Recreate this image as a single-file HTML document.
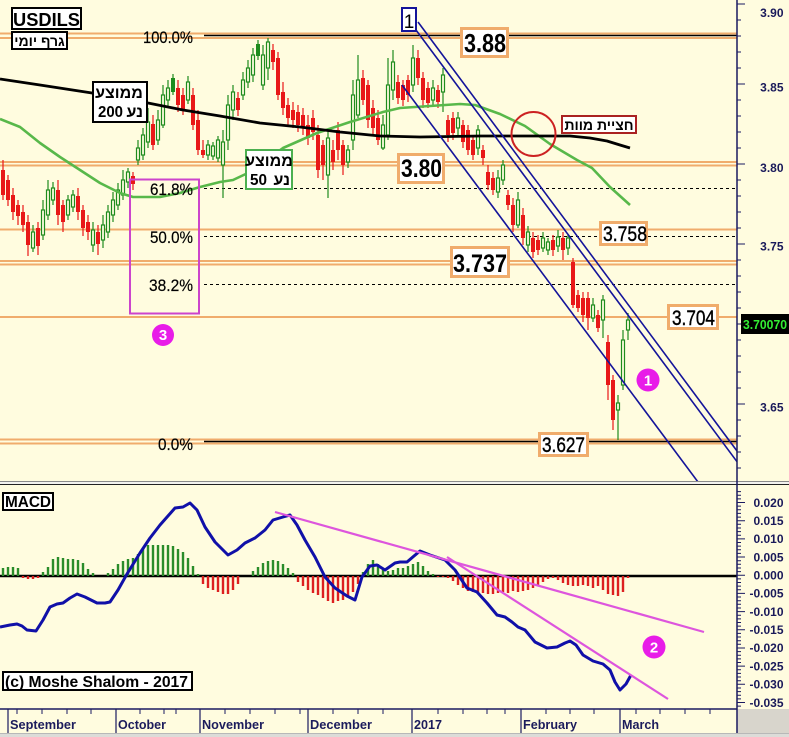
<!DOCTYPE html>
<html><head><meta charset="utf-8"><style>
html,body{margin:0;padding:0;background:#FFFCDF;}
svg{display:block;}
</style></head><body>
<svg width="789" height="737" viewBox="0 0 789 737" xmlns="http://www.w3.org/2000/svg" font-family="'Liberation Sans','DejaVu Sans',sans-serif">
<defs>
<clipPath id="pc"><rect x="0" y="0" width="737" height="481"/></clipPath>
<clipPath id="mc"><rect x="0" y="485" width="737" height="224"/></clipPath>
</defs>
<rect x="0" y="0" width="789" height="737" fill="#FFFCDF"/>

<g clip-path="url(#pc)">
<g stroke="#F0AC6C" stroke-width="2" fill="none">
<line x1="0" y1="33.5" x2="737" y2="33.5"/>
<line x1="0" y1="38" x2="737" y2="38"/>
<line x1="0" y1="162" x2="737" y2="162"/>
<line x1="0" y1="165.5" x2="737" y2="165.5"/>
<line x1="0" y1="229.5" x2="737" y2="229.5"/>
<line x1="0" y1="261" x2="737" y2="261"/>
<line x1="0" y1="264.5" x2="737" y2="264.5"/>
<line x1="0" y1="317" x2="737" y2="317"/>
<line x1="0" y1="439.5" x2="737" y2="439.5"/>
<line x1="0" y1="443.5" x2="737" y2="443.5"/>
</g>
<g stroke="#000" stroke-width="1.5">
<line x1="204" y1="35.5" x2="737" y2="35.5"/>
<line x1="204" y1="441.5" x2="737" y2="441.5"/>
</g>
<g stroke="#000" stroke-width="1" stroke-dasharray="3,3">
<line x1="204" y1="188.5" x2="737" y2="188.5"/>
<line x1="204" y1="236.5" x2="737" y2="236.5"/>
<line x1="204" y1="284.5" x2="737" y2="284.5"/>
</g>

<path stroke="#E81818" stroke-width="1.2" fill="none" d="M3 160V200M8 175V206M13 188V220M18 200V225M23 205V232M28 215V256M38 222V255M58 180V225M63 200V232M78 188V220M83 205V236M88 215V240M98 225V255M133 172V190M153 115V150M178 80V112M183 88V115M193 88V130M198 110V155M203 140V158M238 92V116M273 44V70M278 52V100M283 82V115M288 98V125M293 102V128M298 105V132M303 108V135M308 115V145M313 110V140M318 125V178M323 140V180M333 140V170M338 122V160M343 140V175M363 70V105M368 80V128M373 100V135M378 110V145M398 75V104M403 80V106M408 75V102M418 50V85M423 72V108M428 82V108M438 85V108M448 115V142M453 112V140M463 120V148M468 125V155M473 135V160M483 145V165M488 165V190M493 172V195M508 190V210M513 198V232M523 208V245M533 232V258M538 235V255M553 235V256M563 232V260M573 258V308M578 290V312M583 292V322M588 292V330M598 310V332M608 335V400M613 375V430"/>
<g fill="#E81818">
<rect x="1" y="170" width="4" height="25"/><rect x="6" y="180" width="4" height="20"/><rect x="11" y="195" width="4" height="17"/><rect x="16" y="205" width="4" height="11"/><rect x="21" y="212" width="4" height="13"/><rect x="26" y="222" width="4" height="23"/><rect x="36" y="228" width="4" height="18"/><rect x="56" y="190" width="4" height="25"/><rect x="61" y="205" width="4" height="17"/><rect x="76" y="196" width="4" height="16"/><rect x="81" y="210" width="4" height="18"/><rect x="86" y="222" width="4" height="10"/><rect x="96" y="232" width="4" height="12"/><rect x="131" y="176" width="4" height="8"/><rect x="151" y="124" width="4" height="21"/><rect x="176" y="88" width="4" height="17"/><rect x="181" y="95" width="4" height="15"/><rect x="191" y="95" width="4" height="30"/><rect x="196" y="120" width="4" height="30"/><rect x="201" y="150" width="4" height="5"/><rect x="236" y="98" width="4" height="12"/><rect x="271" y="50" width="4" height="12"/><rect x="276" y="58" width="4" height="37"/><rect x="281" y="92" width="4" height="16"/><rect x="286" y="105" width="4" height="13"/><rect x="291" y="110" width="4" height="10"/><rect x="296" y="112" width="4" height="13"/><rect x="301" y="115" width="4" height="13"/><rect x="306" y="125" width="4" height="13"/><rect x="311" y="118" width="4" height="14"/><rect x="316" y="135" width="4" height="35"/><rect x="321" y="145" width="4" height="20"/><rect x="331" y="150" width="4" height="12"/><rect x="336" y="130" width="4" height="20"/><rect x="341" y="145" width="4" height="20"/><rect x="361" y="78" width="4" height="22"/><rect x="366" y="85" width="4" height="35"/><rect x="371" y="108" width="4" height="20"/><rect x="376" y="118" width="4" height="22"/><rect x="396" y="82" width="4" height="16"/><rect x="401" y="85" width="4" height="15"/><rect x="406" y="80" width="4" height="15"/><rect x="416" y="58" width="4" height="20"/><rect x="421" y="78" width="4" height="22"/><rect x="426" y="88" width="4" height="15"/><rect x="436" y="90" width="4" height="12"/><rect x="446" y="120" width="4" height="15"/><rect x="451" y="118" width="4" height="15"/><rect x="461" y="125" width="4" height="17"/><rect x="466" y="130" width="4" height="20"/><rect x="471" y="140" width="4" height="15"/><rect x="481" y="150" width="4" height="8"/><rect x="486" y="172" width="4" height="13"/><rect x="491" y="178" width="4" height="12"/><rect x="506" y="195" width="4" height="10"/><rect x="511" y="205" width="4" height="20"/><rect x="521" y="215" width="4" height="23"/><rect x="531" y="238" width="4" height="14"/><rect x="536" y="240" width="4" height="10"/><rect x="551" y="240" width="4" height="10"/><rect x="561" y="238" width="4" height="12"/><rect x="571" y="262" width="4" height="43"/><rect x="576" y="295" width="4" height="13"/><rect x="581" y="298" width="4" height="17"/><rect x="586" y="298" width="4" height="20"/><rect x="596" y="315" width="4" height="13"/><rect x="606" y="342" width="4" height="43"/><rect x="611" y="380" width="4" height="40"/>
</g>
<path stroke="#1E8C1E" stroke-width="1.2" fill="none" d="M33 225V252M43 200V240M48 180V220M53 182V205M68 195V220M73 190V212M93 222V252M103 215V248M108 205V238M113 192V222M118 183V210M123 170V200M128 168V188M138 140V165M143 128V160M148 108V148M158 110V145M163 85V128M168 80V108M173 74V95M188 76V104M208 140V160M213 142V160M218 136V162M223 130V198M228 95V150M233 85V120M243 72V100M248 60V88M253 48V82M258 40V60M263 45V90M268 38V80M328 130V198M348 145V168M353 80V150M358 55V118M383 115V150M388 58V140M393 50V100M413 45V92M433 80V105M443 68V112M458 112V135M478 125V155M498 170V198M503 160V185M518 192V228M528 226V252M543 232V252M548 238V255M558 230V252M568 235V255M593 298V322M603 295V338M618 395V440M623 330V390M628 313V340"/>
<g fill="#FFFCDF" stroke="#1E8C1E" stroke-width="1.2">
<rect x="31.5" y="232" width="3" height="16"/><rect x="41.5" y="210" width="3" height="25"/><rect x="46.5" y="190" width="3" height="25"/><rect x="51.5" y="188" width="3" height="12"/><rect x="66.5" y="200" width="3" height="15"/><rect x="71.5" y="195" width="3" height="12"/><rect x="91.5" y="230" width="3" height="15"/><rect x="101.5" y="225" width="3" height="15"/><rect x="106.5" y="212" width="3" height="20"/><rect x="111.5" y="200" width="3" height="15"/><rect x="116.5" y="190" width="3" height="15"/><rect x="121.5" y="180" width="3" height="15"/><rect x="126.5" y="172" width="3" height="10"/><rect x="136.5" y="148" width="3" height="12"/><rect x="141.5" y="135" width="3" height="20"/><rect x="146.5" y="122" width="3" height="20"/><rect x="156.5" y="120" width="3" height="20"/><rect x="161.5" y="95" width="3" height="30"/><rect x="166.5" y="88" width="3" height="12"/><rect x="186.5" y="82" width="3" height="18"/><rect x="206.5" y="145" width="3" height="10"/><rect x="211.5" y="146" width="3" height="10"/><rect x="216.5" y="140" width="3" height="18"/><rect x="221.5" y="142" width="3" height="23"/><rect x="226.5" y="105" width="3" height="35"/><rect x="231.5" y="92" width="3" height="18"/><rect x="241.5" y="80" width="3" height="15"/><rect x="246.5" y="68" width="3" height="14"/><rect x="251.5" y="55" width="3" height="20"/><rect x="261.5" y="55" width="3" height="30"/><rect x="266.5" y="42" width="3" height="26"/><rect x="326.5" y="138" width="3" height="37"/><rect x="346.5" y="150" width="3" height="12"/><rect x="351.5" y="95" width="3" height="45"/><rect x="356.5" y="80" width="3" height="35"/><rect x="381.5" y="125" width="3" height="23"/><rect x="386.5" y="85" width="3" height="50"/><rect x="391.5" y="62" width="3" height="28"/><rect x="411.5" y="58" width="3" height="27"/><rect x="431.5" y="88" width="3" height="12"/><rect x="441.5" y="75" width="3" height="17"/><rect x="456.5" y="118" width="3" height="10"/><rect x="476.5" y="130" width="3" height="18"/><rect x="496.5" y="178" width="3" height="14"/><rect x="501.5" y="165" width="3" height="15"/><rect x="516.5" y="200" width="3" height="25"/><rect x="526.5" y="232" width="3" height="13"/><rect x="541.5" y="238" width="3" height="10"/><rect x="546.5" y="242" width="3" height="8"/><rect x="556.5" y="237" width="3" height="9"/><rect x="566.5" y="238" width="3" height="10"/><rect x="591.5" y="305" width="3" height="13"/><rect x="601.5" y="300" width="3" height="20"/><rect x="616.5" y="403" width="3" height="7"/><rect x="621.5" y="340" width="3" height="45"/><rect x="626.5" y="320" width="3" height="10"/>
</g>
<g fill="#1E8C1E"><rect x="171" y="78" width="4" height="14"/><rect x="256" y="44" width="4" height="12"/></g>

<polyline fill="none" stroke="#58B84A" stroke-width="2.6" stroke-linejoin="round" points="0,119 20,127 40,143 60,157 80,170 100,183 120,193 133,197 160,197 180,193 200,187 220,182 233,180 250,172 283,148 317,133 350,122 383,112 400,108 430,106 460,104 475,105 500,114 525,126 550,144 577,160 592,168 610,187 630,205"/>
<polyline fill="none" stroke="#000" stroke-width="2.8" stroke-linejoin="round" points="0,79 40,85 92,93 148,103 183,110 220,116 260,123 300,127 340,132 380,136 420,137 480,136 540,136 570,136 590,138 607,141 620,145 630,148"/>

<g stroke="#14149A" stroke-width="1.6" fill="none">
<line x1="418" y1="22" x2="737" y2="451"/>
<line x1="416" y1="30" x2="737" y2="461.7"/>
<line x1="402" y1="85" x2="698" y2="482"/>
</g>
</g>

<rect x="130" y="179.5" width="69" height="134" fill="none" stroke="#CC44CC" stroke-width="2"/>

<g font-size="17" fill="#000" stroke="#000" stroke-width="0.2">
<text x="143" y="43" textLength="50" lengthAdjust="spacingAndGlyphs">100.0%</text>
<text x="150" y="195" textLength="43" lengthAdjust="spacingAndGlyphs">61.8%</text>
<text x="150" y="243" textLength="43" lengthAdjust="spacingAndGlyphs">50.0%</text>
<text x="149" y="291" textLength="44" lengthAdjust="spacingAndGlyphs">38.2%</text>
<text x="158" y="450" textLength="35" lengthAdjust="spacingAndGlyphs">0.0%</text>
</g>

<g fill="#FFFFFF" stroke="#F0AC6C" stroke-width="3">
<rect x="461.5" y="28.5" width="46" height="28"/>
<rect x="398.5" y="154.5" width="45" height="28"/>
<rect x="600.5" y="222.5" width="46" height="22"/>
<rect x="451.5" y="247.5" width="57" height="29"/>
<rect x="668.5" y="305.5" width="49" height="23"/>
<rect x="539.5" y="433.5" width="48" height="22"/>
</g>
<g fill="#000">
<text x="464" y="52" font-size="26" font-weight="bold" textLength="42" lengthAdjust="spacingAndGlyphs">3.88</text>
<text x="401" y="177" font-size="25" font-weight="bold" textLength="41" lengthAdjust="spacingAndGlyphs">3.80</text>
<text x="453" y="272" font-size="25" font-weight="bold" textLength="54" lengthAdjust="spacingAndGlyphs">3.737</text>
</g>
<g fill="#000" stroke="#000" stroke-width="0.4">
<text x="603" y="241" font-size="21" textLength="44" lengthAdjust="spacingAndGlyphs">3.758</text>
<text x="672" y="325" font-size="21" textLength="43" lengthAdjust="spacingAndGlyphs">3.704</text>
<text x="542" y="452" font-size="21" textLength="43" lengthAdjust="spacingAndGlyphs">3.627</text>
</g>

<g fill="#FFFFFF" stroke="#000" stroke-width="2">
<rect x="12" y="8" width="69" height="21"/>
<rect x="12" y="32" width="55" height="17"/>
<rect x="93" y="82" width="54" height="40"/>
</g>
<rect x="246" y="150" width="46" height="39" fill="#FFFFFF" stroke="#4CB050" stroke-width="2"/>
<text x="13" y="26" font-size="18" font-weight="bold" textLength="67" lengthAdjust="spacingAndGlyphs">USDILS</text>
<text x="39.5" y="46" font-size="14" font-weight="bold" text-anchor="middle">גרף יומי</text>
<text x="119" y="98" font-size="16" font-weight="bold" text-anchor="middle">ממוצע</text>
<text x="98" y="117" font-size="16" font-weight="bold" textLength="25" lengthAdjust="spacingAndGlyphs">200</text>
<text x="143" y="117" font-size="16" font-weight="bold" text-anchor="end">נע</text>
<text x="269" y="166" font-size="16" font-weight="bold" text-anchor="middle">ממוצע</text>
<text x="250" y="185" font-size="16" font-weight="bold" textLength="17" lengthAdjust="spacingAndGlyphs">50</text>
<text x="290" y="185" font-size="16" font-weight="bold" text-anchor="end">נע</text>

<rect x="402" y="8" width="14" height="23" fill="#FFFFFF" stroke="#14149A" stroke-width="2"/>
<text x="409" y="28" font-size="19" text-anchor="middle" fill="#000">1</text>

<circle cx="533.5" cy="134" r="22" fill="none" stroke="#CC2222" stroke-width="2"/>
<rect x="562" y="116" width="74" height="17" fill="#FFFFFF" stroke="#AA2222" stroke-width="2"/>
<text x="599" y="130" font-size="14" font-weight="bold" text-anchor="middle">חציית מוות</text>

<g fill="#E81CE8">
<circle cx="163" cy="335" r="11"/>
<circle cx="648" cy="380" r="11.5"/>
<circle cx="654" cy="647" r="11.5"/>
</g>
<g fill="#FFFFFF" font-size="15" font-weight="bold" text-anchor="middle">
<text x="163" y="340">3</text>
<text x="648" y="385.5">1</text>
<text x="654" y="652.5">2</text>
</g>

<g stroke="#1A1A60" stroke-width="1">
<path d="M737 4H745M737 20H741M737 36H741M737 52H741M737 68H741M737 84H745M737 100H741M737 116H741M737 132H741M737 148H741M737 164H745M737 180H741M737 196H741M737 212H741M737 228H741M737 244H745M737 260H741M737 276H741M737 292H741M737 308H741M737 324H745M737 340H741M737 356H741M737 372H741M737 388H741M737 404H745M737 420H741M737 436H741M737 452H741M737 468H741"/>
</g>
<g font-size="12" font-weight="bold" fill="#1A1A5A" text-anchor="end">
<text x="783.5" y="17">3.90</text>
<text x="783.5" y="91.5">3.85</text>
<text x="783.5" y="172">3.80</text>
<text x="783.5" y="250.5">3.75</text>
<text x="783.5" y="411.5">3.65</text>
</g>
<rect x="741" y="314" width="48" height="20" fill="#000"/>
<text x="743" y="329" font-size="13" font-weight="bold" fill="#33EE33" textLength="44" lengthAdjust="spacingAndGlyphs">3.70070</text>

<rect x="0" y="481" width="789" height="4" fill="#F2F2EE"/>
<line x1="0" y1="481.5" x2="789" y2="481.5" stroke="#8A8A8A" stroke-width="1"/>
<line x1="0" y1="484.5" x2="789" y2="484.5" stroke="#222" stroke-width="1"/>

<g clip-path="url(#mc)">
<line x1="0" y1="576" x2="737" y2="576" stroke="#000" stroke-width="2.5"/>
<path stroke="#2A8C2A" stroke-width="2.4" fill="none" d="M3 576V568M8 576V567M13 576V567M18 576V568M43 576V572M48 576V567M53 576V559M58 576V557M63 576V558M68 576V559M73 576V559M78 576V560M83 576V563M88 576V569M93 576V573M108 576V573M113 576V569M118 576V564M123 576V561M128 576V559M133 576V558M138 576V554M143 576V548M148 576V545M153 576V545M158 576V545M163 576V545M168 576V545M173 576V546M178 576V549M183 576V552M188 576V558M193 576V566M198 576V574M253 576V571M258 576V567M263 576V563M268 576V561M273 576V560M278 576V561M283 576V564M288 576V568M293 576V573M363 576V572M368 576V564M373 576V560M378 576V564M383 576V569M388 576V571M393 576V570M398 576V568M403 576V568M408 576V566M413 576V564M418 576V562M423 576V566M428 576V571M433 576V574"/>
<path stroke="#DD2020" stroke-width="2.4" fill="none" d="M23 576V578M28 576V579M33 576V579M38 576V578M203 576V584M208 576V588M213 576V590M218 576V592M223 576V594M228 576V594M233 576V590M238 576V584M298 576V582M303 576V586M308 576V590M313 576V593M318 576V595M323 576V598M328 576V601M333 576V603M338 576V601M343 576V600M348 576V596M353 576V592M358 576V584M438 576V577M443 576V577M448 576V578M453 576V581M458 576V585M463 576V588M468 576V591M473 576V592M478 576V594M483 576V593M488 576V594M493 576V594M498 576V593M503 576V592M508 576V593M513 576V591M518 576V592M523 576V591M528 576V590M533 576V588M538 576V586M543 576V582M548 576V579M553 576V578M558 576V580M563 576V583M568 576V585M573 576V586M578 576V586M583 576V585M588 576V586M593 576V588M598 576V586M603 576V590M608 576V594M613 576V595M618 576V596M623 576V592M628 576V578"/>
<polyline fill="none" stroke="#1010A8" stroke-width="3" stroke-linejoin="round" points="0,627 10,625 17,624 22,626 27,630 36,631 43,620 50,607 57,604 63,603 70,598 77,594 85,597 97,603 105,603 110,602 118,590 127,574 140,553 150,538 160,525 175,508 183,507 190,503 197,510 205,527 215,542 228,555 237,550 245,543 255,538 265,530 273,520 283,517 290,515 297,525 305,540 315,557 325,577 335,588 347,596 355,600 362,577 370,566 377,565 385,570 395,563 400,562 407,562 414,556 420,551 430,555 445,560 455,570 467,588 477,592 487,603 497,615 505,617 512,622 518,627 525,630 535,642 547,648 557,647 565,643 570,641 576,645 583,655 593,661 603,664 610,670 615,682 620,690 626,684 631,675"/>
<g stroke="#DD55DD" stroke-width="2.2" fill="none">
<line x1="275" y1="512" x2="704" y2="632"/>
<line x1="447" y1="557" x2="668" y2="699"/>
</g>
</g>

<rect x="3" y="493" width="50" height="17" fill="#FFFFFF" stroke="#000" stroke-width="2"/>
<text x="5" y="507" font-size="16" font-weight="bold" textLength="46" lengthAdjust="spacingAndGlyphs">MACD</text>
<rect x="3" y="672" width="189" height="18" fill="#FFFFFF" stroke="#000" stroke-width="2"/>
<text x="5" y="687" font-size="16" font-weight="bold" textLength="183" lengthAdjust="spacingAndGlyphs">(c) Moshe Shalom - 2017</text>

<path stroke="#1A1A60" stroke-width="1" fill="none" d="M737 491.6H741M737 495.2H741M737 498.9H741M737 502.5H745M737 506.1H741M737 509.8H741M737 513.4H741M737 517.1H741M737 520.7H745M737 524.3H741M737 528H741M737 531.6H741M737 535.2H741M737 538.9H745M737 542.5H741M737 546.1H741M737 549.8H741M737 553.4H741M737 557H745M737 560.7H741M737 564.3H741M737 568H741M737 571.6H741M737 575.2H745M737 578.9H741M737 582.5H741M737 586.1H741M737 589.8H741M737 593.4H745M737 597H741M737 600.7H741M737 604.3H741M737 608H741M737 611.6H745M737 615.2H741M737 618.9H741M737 622.5H741M737 626.1H741M737 629.8H745M737 633.4H741M737 637H741M737 640.7H741M737 644.3H741M737 648H745M737 651.6H741M737 655.2H741M737 658.9H741M737 662.5H741M737 666.1H745M737 669.8H741M737 673.4H741M737 677H741M737 680.7H741M737 684.3H745M737 688H741M737 691.6H741M737 695.2H741M737 698.9H741M737 702.5H745M737 706.1H741"/>
<g font-size="12" font-weight="bold" fill="#1A1A5A" text-anchor="end">
<text x="783.5" y="506.8">0.020</text>
<text x="783.5" y="525">0.015</text>
<text x="783.5" y="543.2">0.010</text>
<text x="783.5" y="561.4">0.005</text>
<text x="783.5" y="579.5">0.000</text>
<text x="783.5" y="597.7">-0.005</text>
<text x="783.5" y="615.9">-0.010</text>
<text x="783.5" y="634.1">-0.015</text>
<text x="783.5" y="652.2">-0.020</text>
<text x="783.5" y="670.4">-0.025</text>
<text x="783.5" y="688.6">-0.030</text>
<text x="783.5" y="706.8">-0.035</text>
</g>

<rect x="737" y="709" width="52" height="28" fill="#D8D5CC"/>
<rect x="0" y="733" width="789" height="4" fill="#DCDCD8"/>
<line x1="0" y1="733.5" x2="789" y2="733.5" stroke="#B8B8B8" stroke-width="1"/>
<line x1="0" y1="709" x2="737" y2="709" stroke="#1A1A60" stroke-width="1.5"/>
<path stroke="#1A1A60" stroke-width="1" fill="none" d="M17 709V714M42 709V714M67 709V714M91 709V714M140 709V714M164 709V714M176 709V714M225 709V714M250 709V714M275 709V714M300 709V714M333 709V714M358 709V714M383 709V714M438 709V714M463 709V714M487 709V714M505 709V714M546 709V714M570 709V714M594 709V714M636 709V714M660 709V714M685 709V714M710 709V714"/>
<path stroke="#1A1A60" stroke-width="1.2" fill="none" d="M8 709V733M116 709V733M200 709V733M308 709V733M412 709V733M521 709V733M620 709V733"/>
<g font-size="13" font-weight="bold" fill="#1C1C5C">
<text x="10" y="729" textLength="66" lengthAdjust="spacingAndGlyphs">September</text>
<text x="118" y="729" textLength="48" lengthAdjust="spacingAndGlyphs">October</text>
<text x="202" y="729" textLength="62" lengthAdjust="spacingAndGlyphs">November</text>
<text x="310" y="729" textLength="62" lengthAdjust="spacingAndGlyphs">December</text>
<text x="414" y="729" textLength="28" lengthAdjust="spacingAndGlyphs">2017</text>
<text x="523" y="729" textLength="54" lengthAdjust="spacingAndGlyphs">February</text>
<text x="622" y="729" textLength="37" lengthAdjust="spacingAndGlyphs">March</text>
</g>

<line x1="737" y1="0" x2="737" y2="733" stroke="#1A1A60" stroke-width="1.5"/>
</svg>
</body></html>
